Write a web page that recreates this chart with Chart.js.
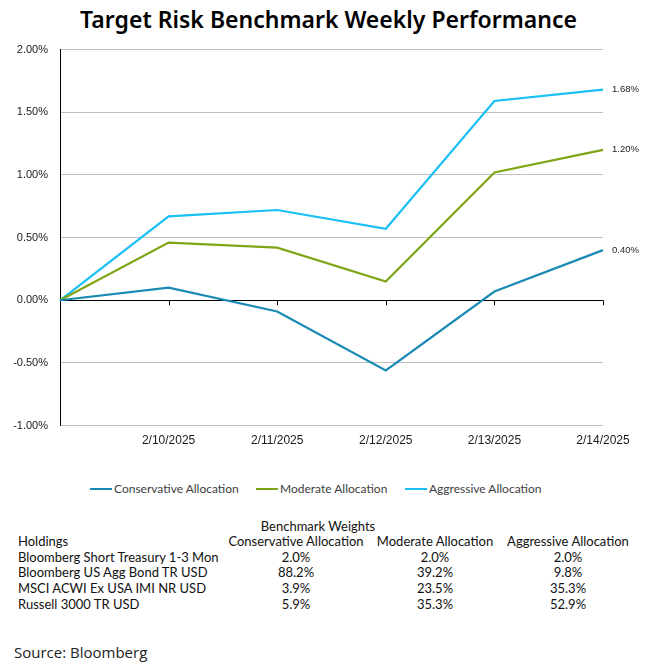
<!DOCTYPE html>
<html>
<head>
<meta charset="utf-8">
<script src="https://cdn.jsdelivr.net/npm/chart.js@4.4.1/dist/chart.umd.min.js"></script>
<style>
    html, body { margin: 0; padding: 0; background: #fff; }
    #page { position: relative; width: 657px; height: 671px; overflow: hidden; }
    #title { position: absolute; left: 0; top: 3px; width: 657px; text-align: center;
             font-family: "Noto Sans", sans-serif; font-weight: 600; font-size: 23px; color: #000; }
    #chart-wrap { position: absolute; left: 0; top: 31px; width: 657px; height: 425px; }
    #legend div { position: absolute; font-family: Lato, sans-serif; font-size: 12px; color: #404040;
                  white-space: nowrap; line-height: 14px; }
    #legend span { display: inline-block; width: 22px; height: 2px; vertical-align: middle;
                   margin-right: 2px; position: relative; top: -1px; }
    .cell { position: absolute; font-family: Lato, sans-serif; font-size: 13px; color: #111;
            white-space: nowrap; line-height: 16px; }
    #source { position: absolute; left: 14px; top: 642px; font-family: "Open Sans", sans-serif;
              font-size: 15px; color: #222; }
</style>
</head>
<body>
<div id="page">
    <div id="title">Target Risk Benchmark Weekly Performance</div>
    <div id="chart-wrap"><canvas id="chart"></canvas></div>
    <div id="legend"></div>
    <div id="table"></div>
    <div id="source">Source: Bloomberg</div>
</div>
<script>
var categories = ['', '2/10/2025', '2/11/2025', '2/12/2025', '2/13/2025', '2/14/2025'];
var series_names = ['Conservative Allocation', 'Moderate Allocation', 'Aggressive Allocation'];
var conservative = [0, 0.10, -0.09, -0.56, 0.07, 0.40];
var moderate = [0, 0.46, 0.42, 0.15, 1.02, 1.20];
var aggressive = [0, 0.67, 0.72, 0.57, 1.59, 1.68];
var series_colors = ['#1A8AB5', '#7DA514', '#19BFF5'];
var y_ticks = [-1.0, -0.5, 0, 0.5, 1.0, 1.5, 2.0];

var holdings = ['Bloomberg Short Treasury 1-3 Month', 'Bloomberg US Agg Bond TR USD',
                'MSCI ACWI Ex USA IMI NR USD', 'Russell 3000 TR USD'];
var weights_conservative = ['2.0%', '88.2%', '3.9%', '5.9%'];
var weights_moderate = ['2.0%', '39.2%', '23.5%', '35.3%'];
var weights_aggressive = ['2.0%', '9.8%', '35.3%', '52.9%'];

(function() {
    var values = [conservative, moderate, aggressive];

    function $each(arr, fn) { for (var i = 0; i < arr.length; ++i) fn(arr[i], i); }

    // tick marks under the zero line + end-of-line value labels
    var extras = {
        id: 'extras',
        afterDatasetsDraw: function(chart) {
            var ctx = chart.ctx, xs = chart.scales.x, ys = chart.scales.y;
            var y0 = ys.getPixelForValue(0);
            ctx.save();
            ctx.strokeStyle = '#000';
            ctx.lineWidth = 1;
            for (var i = 1; i < categories.length; ++i) {
                var x = Math.round(xs.getPixelForValue(i)) + 0.5;
                ctx.beginPath();
                ctx.moveTo(x, y0);
                ctx.lineTo(x, y0 + 5);
                ctx.stroke();
            }
            ctx.font = '9.5px Arial, "Liberation Sans", sans-serif';
            ctx.fillStyle = '#222';
            ctx.textBaseline = 'middle';
            chart.data.datasets.forEach(function(ds, idx) {
                var meta = chart.getDatasetMeta(idx);
                var pt = meta.data[meta.data.length - 1];
                ctx.fillText(ds.data[ds.data.length - 1].toFixed(2) + '%', pt.x + 9, pt.y);
            });
            ctx.restore();
        }
    };

    var datasets = [];
    $each(series_names, function(name, idx) {
        datasets.push({
            label: name,
            data: values[idx],
            borderColor: series_colors[idx],
            backgroundColor: series_colors[idx],
            borderWidth: 2.2,
            pointRadius: 0,
            tension: 0,
            fill: false
        });
    });

    new Chart(document.getElementById('chart'), {
        type: 'line',
        data: { labels: categories, datasets: datasets },
        options: {
            responsive: true,
            maintainAspectRatio: false,
            animation: false,
            layout: { padding: { top: 9, right: 54, left: 0, bottom: 0 } },
            plugins: { legend: { display: false }, tooltip: { enabled: false } },
            scales: {
                x: {
                    type: 'category',
                    offset: false,
                    grid: { display: false, drawTicks: false },
                    border: { display: false },
                    ticks: {
                        autoSkip: false, maxRotation: 0, padding: 8,
                        color: '#1a1a1a',
                        font: { family: 'Arial, "Liberation Sans", sans-serif', size: 12 }
                    }
                },
                y: {
                    min: -1, max: 2,
                    afterFit: function(scale) { scale.width = 60; },
                    afterBuildTicks: function(scale) {
                        scale.ticks = y_ticks.map(function(v) { return { value: v }; });
                    },
                    grid: {
                        drawTicks: false,
                        color: function(c) { return c.tick && c.tick.value === 0 ? '#000' : '#BFBFBF'; }
                    },
                    border: { display: true, color: '#000', width: 1 },
                    ticks: {
                        padding: 12,
                        color: '#1a1a1a',
                        font: { family: 'Arial, "Liberation Sans", sans-serif', size: 11 },
                        callback: function(v) { return v.toFixed(2) + '%'; }
                    }
                }
            }
        },
        plugins: [extras]
    });

    // legend
    var legend_x = [90, 256, 405];
    var lg = document.getElementById('legend');
    $each(series_names, function(name, idx) {
        var d = document.createElement('div');
        d.style.left = legend_x[idx] + 'px';
        d.style.top = '482px';
        d.innerHTML = '<span style="background:' + series_colors[idx] + '"></span>' + name;
        lg.appendChild(d);
    });

    // weights table
    var tb = document.getElementById('table');
    var col_centers = [296, 435, 568];
    var row_mid = [557, 572, 588, 604];
    function cell(text, left, mid, center, clipWidth) {
        var d = document.createElement('div');
        d.className = 'cell';
        d.textContent = text;
        d.style.top = (mid - 8) + 'px';
        if (center) {
            d.style.left = (left - 100) + 'px';
            d.style.width = '200px';
            d.style.textAlign = 'center';
        } else {
            d.style.left = left + 'px';
        }
        if (clipWidth) { d.style.width = clipWidth + 'px'; d.style.overflow = 'hidden'; }
        tb.appendChild(d);
    }
    cell('Benchmark Weights', 318, 526, true);
    cell('Holdings', 18, 541, false);
    $each(series_names, function(name, idx) { cell(name, col_centers[idx], 541, true); });
    var cols = [weights_conservative, weights_moderate, weights_aggressive];
    $each(holdings, function(h, r) {
        cell(h, 18, row_mid[r], false, 201);
        $each(cols, function(col, c) { cell(col[r], col_centers[c], row_mid[r], true); });
    });
})();
</script>
</body>
</html>
